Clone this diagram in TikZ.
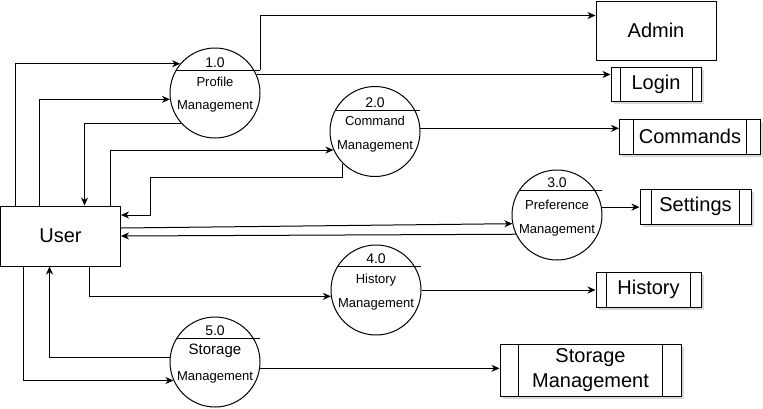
\documentclass[tikz,border=0pt]{standalone}
\usepackage{fontspec}
\setmainfont{Liberation Sans}
\usetikzlibrary{arrows.meta,calc,shadows}
\begin{document}
\begin{tikzpicture}[x=1pt,y=-1pt,line width=1pt,
  flow/.style={-{Stealth[length=8pt,width=7pt,inset=2.5pt]}},
  entity/.style={draw, rectangle, inner sep=0pt, font=\fontsize{20}{25}\selectfont, align=center},
  store/.style={entity, fill=white,
    drop shadow={shadow xshift=2.5pt,shadow yshift=-2.5pt,opacity=0.3},
    path picture={
      \draw[line width=1pt] ($(path picture bounding box.north west)!0.1!(path picture bounding box.north east)$) -- ($(path picture bounding box.south west)!0.1!(path picture bounding box.south east)$);
      \draw[line width=1pt] ($(path picture bounding box.north west)!0.9!(path picture bounding box.north east)$) -- ($(path picture bounding box.south west)!0.9!(path picture bounding box.south east)$);}},
  proc/.style={draw, circle, minimum size=90pt, inner sep=0pt},
  num/.style={anchor=base, inner sep=0pt, font=\fontsize{14}{16}\selectfont},
  ptext/.style={anchor=base, inner sep=0pt, font=\fontsize{13}{15}\selectfont},
]
\useasboundingbox (0,0) rectangle (763,408);

% entities
\node[entity, minimum width=120pt, minimum height=60pt] (user) at (60.5,236) {User};
\node[entity, minimum width=120pt, minimum height=59pt] (admin) at (656,30.5) {Admin};
\node[store, minimum width=90pt, minimum height=34pt] (login) at (656,84) {Login};
\node[store, minimum width=141pt, minimum height=35pt] (commands) at (690,136.5) {Commands};
\node[store, minimum width=111pt, minimum height=35pt] (settings) at (695.5,206.5) {Settings};
\node[store, minimum width=105pt, minimum height=35pt] (history) at (648.5,289.5) {History};
\node[store, minimum width=181pt, minimum height=52pt] (storage) at (590.5,370) {Storage\\Management};

% processes
\node[proc] (p1) at (215,93) {};
\node[proc] (p2) at (375,131.5) {};
\node[proc] (p3) at (557,215) {};
\node[proc] (p4) at (376,290) {};
\node[proc] (p5) at (215,362) {};

\draw (p1.center) ++(-38.7,-23) coordinate (p1l) -- ++(83.7,0) coordinate (p1r);
\draw (p2.center) ++(-39.5,-21.5) coordinate (p2l) -- ++(84.5,0) coordinate (p2r);
\draw (p3.center) ++(-37.4,-25) coordinate (p3l) -- ++(82.4,0) coordinate (p3r);
\draw (p4.center) ++(-38.1,-24) coordinate (p4l) -- ++(83.1,0) coordinate (p4r);
\draw (p5.center) ++(-38.1,-24) coordinate (p5l) -- ++(83.1,0) coordinate (p5r);

\node[num] (p1n) at (215,67) {1.0};
\node[ptext] (p1a) at (215,86) {Profile};
\node[ptext] (p1b) at (215,109) {Management};
\node[num] (p2n) at (375,107) {2.0};
\node[ptext] (p2a) at (375,125) {Command};
\node[ptext] (p2b) at (375,149) {Management};
\node[num] (p3n) at (557,187) {3.0};
\node[ptext] (p3a) at (557,209) {Preference};
\node[ptext] (p3b) at (557,233) {Management};
\node[num] (p4n) at (376,263) {4.0};
\node[ptext] (p4a) at (376,283) {History};
\node[ptext] (p4b) at (376,307) {Management};
\node[num] (p5n) at (215,335) {5.0};
\node[ptext, font=\fontsize{15}{17}\selectfont] (p5a) at (215,354) {Storage};
\node[ptext] (p5b) at (215,380) {Management};

% connectors
\draw[flow] ([xshift=15.5pt]user.north west) |- (p1.140);
\draw[flow] ([xshift=39.5pt]user.north west) |- (p1.188);
\draw[flow] (p1.222) -| ([xshift=84.5pt]user.north west);
\draw[flow] ([xshift=110.5pt]user.north west) |- (p2.204);
\draw[flow] (p2.225) |- (150,177) |- ([yshift=21pt]user.east);
\draw[flow] ([yshift=8pt]user.east) -- (p3.191);
\draw[flow] (p3.205) -- (user.east);
\draw[flow] (p3.10) -- (settings.west |- p3.10);
\draw[flow] ([xshift=89.5pt]user.south west) |- (p4.188);
\draw[flow] (p4.east) -- (history.west |- p4.east);
\draw[flow] (p5.174) -| ([xshift=49.5pt]user.south west);
\draw[flow] ([xshift=23.5pt]user.south west) |- (p5.204);
\draw[flow] (p5.352) -- (storage.west |- p5.352);
\draw[flow] (p1r) |- ([yshift=15pt]admin.west);
\draw[flow] (p1.24) -- (login.west |- p1.24);
\draw[flow] (p2.4) -- (commands.west |- p2.4);
\end{tikzpicture}
\end{document}
